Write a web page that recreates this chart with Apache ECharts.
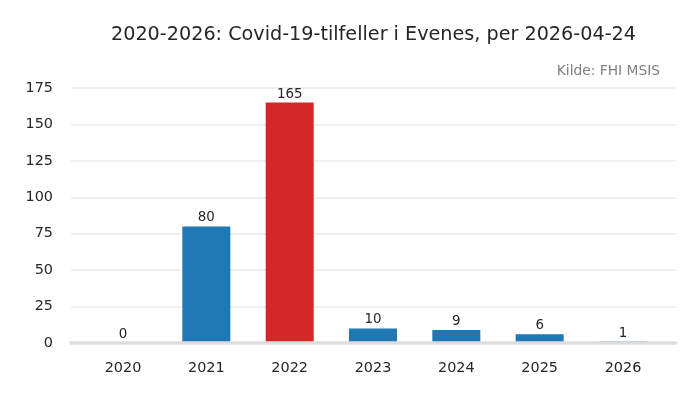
<!DOCTYPE html>
<html>
<head>
<meta charset="utf-8">
<script src="https://cdn.jsdelivr.net/npm/echarts@6/dist/echarts.min.js"></script>
<style>html,body{margin:0;padding:0;background:#fff}#c{width:700px;height:400px}</style>
</head>
<body>
<div id="c"></div>
<script>
const years = [2020, 2021, 2022, 2023, 2024, 2025, 2026];
const cases = [0, 80, 165, 10, 9, 6, 1];
const yTicks = [0, 25, 50, 75, 100, 125, 150, 175];
const titleText = '2020-2026: Covid-19-tilfeller i Evenes, per 2026-04-24';
const sourceText = 'Kilde: FHI MSIS';
const blue = '#1f77b4', red = '#d62728';
const maxVal = Math.max(...cases);

const chart = echarts.init(document.getElementById('c'), null, {renderer: 'canvas'});
chart.setOption({
  animation: false,
  textStyle: {fontFamily: 'DejaVu Sans'},
  title: {
    text: titleText, left: 106, top: 21,
    textStyle: {fontSize: 19.2, fontWeight: 'normal', color: '#262626', fontFamily: 'DejaVu Sans'}
  },
  graphic: [{
    type: 'text', right: 40, top: 64,
    style: {text: sourceText, fill: '#808080', fontSize: 13.8, fontFamily: 'DejaVu Sans'}
  }],
  grid: {left: 71, right: 24, top: 88, bottom: 57, containLabel: false},
  xAxis: {
    type: 'value', min: 2019.376, max: 2026.636, minInterval: 1, maxInterval: 1,
    z: 5,
    axisLine: {show: true, lineStyle: {color: '#dddddd', width: 3.5}},
    axisTick: {show: false},
    splitLine: {show: false},
    axisLabel: {
      showMinLabel: false, showMaxLabel: false, margin: 18,
      fontSize: 14.4, color: '#262626',
      formatter: v => Number.isInteger(v) ? String(v) : ''
    }
  },
  yAxis: {
    type: 'value', min: 0, max: yTicks[yTicks.length - 1], interval: 25,
    axisLine: {show: false}, axisTick: {show: false},
    splitLine: {lineStyle: {color: '#ebebeb', width: 1.5}},
    axisLabel: {fontSize: 14.4, color: '#262626', margin: 18}
  },
  series: [{
    type: 'bar',
    barWidth: 48,
    z: 2,
    data: years.map((y, i) => ({
      value: [y, cases[i]],
      itemStyle: {color: cases[i] === maxVal ? red : blue}
    })),
    label: {
      show: true, position: 'top', distance: 2,
      fontSize: 13.4, color: '#262626',
      formatter: p => String(p.value[1])
    }
  }]
});
</script>
</body>
</html>
